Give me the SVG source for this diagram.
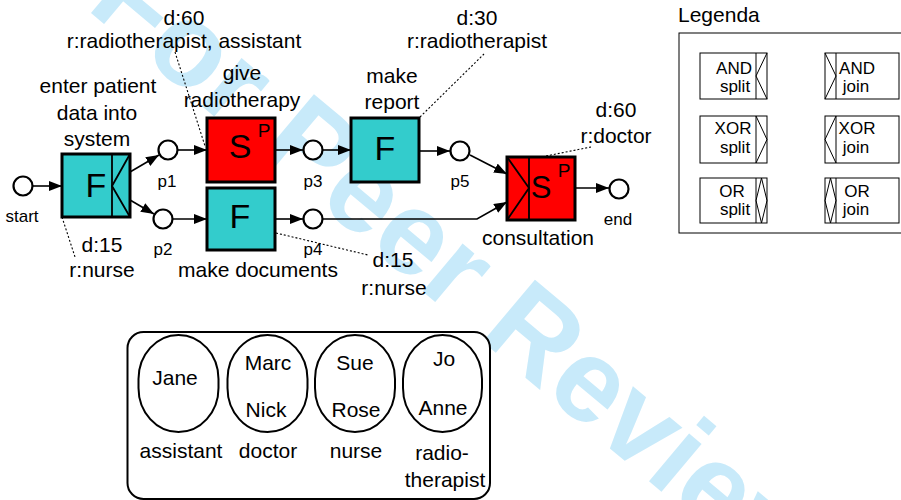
<svg xmlns="http://www.w3.org/2000/svg" width="901" height="500" viewBox="0 0 901 500">
<style>
text{font-family:"Liberation Sans",Arial,sans-serif;fill:#000}
.lb{font-size:21px;text-anchor:middle}
.sm{font-size:17px;text-anchor:middle}
.big{font-size:34px;text-anchor:middle}
.sup{font-size:19px;text-anchor:middle}
.lg{font-size:17px;text-anchor:middle}
.teal{fill:#33CCCC;stroke:#000;stroke-width:3}
.red{fill:#FF0000;stroke:#000;stroke-width:3}
.thin{fill:none;stroke:#000;stroke-width:1.8}
.place{fill:#fff;stroke:#000;stroke-width:2.2}
.edge{fill:none;stroke:#000;stroke-width:1.6}
.dot{fill:none;stroke:#000;stroke-width:1.1;stroke-dasharray:2,2}
.lgr{fill:#fff;stroke:#000;stroke-width:1}
.lgl{fill:none;stroke:#000;stroke-width:1}
.res{fill:#fff;stroke:#000;stroke-width:2}
.wm{font-family:"Liberation Sans",Arial,sans-serif;font-weight:bold;font-size:118px;fill:#c8eafa}
</style>
<defs>
<marker id="ah" markerUnits="userSpaceOnUse" markerWidth="13" markerHeight="10" refX="13" refY="5" orient="auto">
<path d="M0,0 L13,5 L0,10 z" fill="#000"/>
</marker>
</defs>
<rect width="901" height="500" fill="#fff"/>
<g id="watermark">
<text class="wm" x="85" y="8" transform="rotate(40 85 8)">For Peer Review</text>
</g>

<g id="connectors">
<line class="edge" x1="33" y1="186" x2="62" y2="186" marker-end="url(#ah)"/>
<line class="edge" x1="130" y1="172" x2="159" y2="155" marker-end="url(#ah)"/>
<line class="edge" x1="130" y1="200" x2="154" y2="214" marker-end="url(#ah)"/>
<line class="edge" x1="178" y1="150" x2="207" y2="150" marker-end="url(#ah)"/>
<line class="edge" x1="173" y1="219" x2="207" y2="219" marker-end="url(#ah)"/>
<line class="edge" x1="275" y1="150" x2="303" y2="150" marker-end="url(#ah)"/>
<line class="edge" x1="275" y1="219" x2="303" y2="219" marker-end="url(#ah)"/>
<line class="edge" x1="323" y1="150" x2="351" y2="150" marker-end="url(#ah)"/>
<line class="edge" x1="419" y1="151" x2="450" y2="151" marker-end="url(#ah)"/>
<line class="edge" x1="470" y1="155" x2="507" y2="174" marker-end="url(#ah)"/>
<polyline class="edge" points="323,219 477,219 507,202" marker-end="url(#ah)"/>
<line class="edge" x1="575" y1="188" x2="609" y2="188" marker-end="url(#ah)"/>
<line class="dot" x1="175" y1="52" x2="205" y2="146"/>
<line class="dot" x1="62" y1="217" x2="75" y2="257"/>
<line class="dot" x1="276" y1="233" x2="368" y2="255"/>
<line class="dot" x1="420" y1="117" x2="484" y2="54"/>
<line class="dot" x1="546" y1="156" x2="591" y2="147"/>
</g>

<g id="start">
<circle class="place" cx="23" cy="186" r="9.5"/>
<text class="sm" x="22" y="222">start</text>
</g>
<g id="p1"><circle class="place" cx="168" cy="150" r="9.5"/><text class="sm" x="167" y="187">p1</text></g>
<g id="p2"><circle class="place" cx="163" cy="219" r="9.5"/><text class="sm" x="163" y="255">p2</text></g>
<g id="p3"><circle class="place" cx="313" cy="150" r="9.5"/><text class="sm" x="313" y="187">p3</text></g>
<g id="p4"><circle class="place" cx="313" cy="219" r="9.5"/><text class="sm" x="313" y="255">p4</text></g>
<g id="p5"><circle class="place" cx="460" cy="151" r="9.5"/><text class="sm" x="460" y="187">p5</text></g>
<g id="end"><circle class="place" cx="619" cy="189" r="9.5"/><text class="sm" x="618" y="225">end</text></g>

<g id="enter-patient-data">
<rect class="teal" x="62" y="154" width="68" height="63"/>
<line class="thin" x1="112" y1="154" x2="112" y2="217"/>
<polyline class="thin" points="130,154 112,186 130,217"/>
<text class="big" x="96" y="197">F</text>
<text class="lb" x="98" y="93">enter patient</text>
<text class="lb" x="97" y="120">data into</text>
<text class="lb" x="97" y="146">system</text>
<text class="lb" x="102" y="252">d:15</text>
<text class="lb" x="102" y="277">r:nurse</text>
</g>

<g id="give-radiotherapy">
<rect class="red" x="207" y="118" width="68" height="64"/>
<text class="big" x="240" y="158">S</text>
<text class="sup" x="264" y="137">P</text>
<text class="lb" x="242" y="80">give</text>
<text class="lb" x="242" y="107">radiotherapy</text>
<text class="lb" x="184" y="25">d:60</text>
<text class="lb" x="184" y="48">r:radiotherapist, assistant</text>
</g>

<g id="make-documents">
<rect class="teal" x="207" y="188" width="68" height="62"/>
<text class="big" x="240" y="228">F</text>
<text class="lb" x="258" y="277">make documents</text>
<text class="lb" x="393" y="267">d:15</text>
<text class="lb" x="394" y="295">r:nurse</text>
</g>

<g id="make-report">
<rect class="teal" x="351" y="118" width="68" height="64"/>
<text class="big" x="385" y="160">F</text>
<text class="lb" x="392" y="83">make</text>
<text class="lb" x="392" y="109">report</text>
<text class="lb" x="477" y="25">d:30</text>
<text class="lb" x="477" y="48">r:radiotherapist</text>
</g>

<g id="consultation">
<rect class="red" x="507" y="157" width="68" height="63"/>
<line class="thin" x1="529" y1="157" x2="529" y2="220"/>
<polyline class="thin" points="507,157 529,188 507,220"/>
<text class="big" x="541" y="198" style="font-size:31px">S</text>
<text class="sup" x="564" y="177">P</text>
<text class="lb" x="538" y="245">consultation</text>
<text class="lb" x="616" y="117">d:60</text>
<text class="lb" x="616" y="143">r:doctor</text>
</g>

<g id="legend">
<text x="678" y="22" style="font-size:21px">Legenda</text>
<rect class="lgr" x="679" y="33" width="240" height="200"/>
<g id="and-split">
<rect class="lgr" x="700" y="53" width="67" height="46"/>
<line class="lgl" x1="756" y1="53" x2="756" y2="99"/>
<polyline class="lgl" points="767,53 756,76 767,99"/>
<text class="lg" x="734" y="74">AND</text><text class="lg" x="735" y="92">split</text>
</g>
<g id="and-join">
<rect class="lgr" x="825" y="53" width="74" height="46"/>
<line class="lgl" x1="836" y1="53" x2="836" y2="99"/>
<polyline class="lgl" points="825,53 836,76 825,99"/>
<text class="lg" x="857" y="74">AND</text><text class="lg" x="856" y="92">join</text>
</g>
<g id="xor-split">
<rect class="lgr" x="700" y="116" width="67" height="47"/>
<line class="lgl" x1="756" y1="116" x2="756" y2="163"/>
<polyline class="lgl" points="756,116 767,139.5 756,163"/>
<text class="lg" x="733" y="134">XOR</text><text class="lg" x="735" y="153">split</text>
</g>
<g id="xor-join">
<rect class="lgr" x="825" y="116" width="74" height="47"/>
<line class="lgl" x1="836" y1="116" x2="836" y2="163"/>
<polyline class="lgl" points="836,116 825,139.5 836,163"/>
<text class="lg" x="857" y="134">XOR</text><text class="lg" x="856" y="153">join</text>
</g>
<g id="or-split">
<rect class="lgr" x="700" y="178" width="67" height="45"/>
<line class="lgl" x1="756" y1="178" x2="756" y2="223"/>
<polygon class="lgl" points="761.5,178 767,200.5 761.5,223 756,200.5"/>
<text class="lg" x="732" y="197">OR</text><text class="lg" x="735" y="215">split</text>
</g>
<g id="or-join">
<rect class="lgr" x="825" y="178" width="74" height="45"/>
<line class="lgl" x1="836" y1="178" x2="836" y2="223"/>
<polygon class="lgl" points="830.5,178 836,200.5 830.5,223 825,200.5"/>
<text class="lg" x="857" y="197">OR</text><text class="lg" x="856" y="215">join</text>
</g>
</g>

<g id="resources">
<rect class="res" x="127.5" y="332" width="362.5" height="167" rx="16"/>
<g id="res-assistant">
<rect class="res" x="138.5" y="335" width="80" height="97" rx="40" ry="44"/>
<text class="lb" x="175" y="385">Jane</text>
<text class="lb" x="181" y="458">assistant</text>
</g>
<g id="res-doctor">
<rect class="res" x="227.5" y="335" width="80" height="97" rx="40" ry="44"/>
<text class="lb" x="268" y="370">Marc</text>
<text class="lb" x="266" y="417">Nick</text>
<text class="lb" x="268" y="458">doctor</text>
</g>
<g id="res-nurse">
<rect class="res" x="315" y="335" width="80" height="97" rx="40" ry="44"/>
<text class="lb" x="355" y="370">Sue</text>
<text class="lb" x="356" y="417">Rose</text>
<text class="lb" x="356" y="458">nurse</text>
</g>
<g id="res-radiotherapist">
<rect class="res" x="403" y="335" width="79" height="97" rx="40" ry="44"/>
<text class="lb" x="444" y="366">Jo</text>
<text class="lb" x="443" y="415">Anne</text>
<text class="lb" x="442" y="460">radio-</text>
<text class="lb" x="445" y="487">therapist</text>
</g>
</g>
</svg>
